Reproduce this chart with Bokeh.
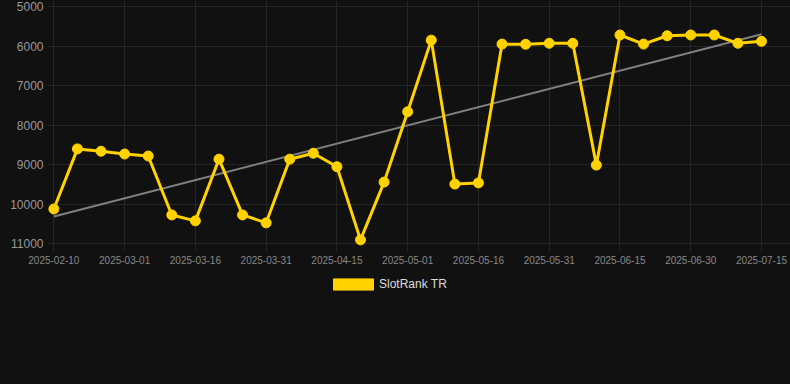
from bokeh.plotting import figure
from bokeh.models import Range1d, FixedTicker, Legend, LegendItem, ColumnDataSource
from bokeh.layouts import column
from bokeh.embed import file_html
from bokeh.resources import INLINE

# ---- data ----
dates = [
    "2025-02-10", "2025-02-16", "2025-02-22", "2025-03-01", "2025-03-06", "2025-03-11",
    "2025-03-16", "2025-03-21", "2025-03-26", "2025-03-31", "2025-04-05", "2025-04-10",
    "2025-04-15", "2025-04-20", "2025-04-26", "2025-05-01", "2025-05-06", "2025-05-11",
    "2025-05-16", "2025-05-21", "2025-05-26", "2025-05-31", "2025-06-05", "2025-06-10",
    "2025-06-15", "2025-06-20", "2025-06-25", "2025-06-30", "2025-07-05", "2025-07-10",
    "2025-07-15",
]
rank_values = [
    10120, 8600, 8660, 8730, 8780, 10270, 10420, 8860, 10270, 10470, 8860, 8710,
    9050, 10900, 9440, 7660, 5850, 9490, 9460, 5950, 5955, 5930, 5930, 9010,
    5720, 5950, 5740, 5720, 5720, 5930, 5880,
]
trend_values = [10310, 5700]          # trend line at first and last date
y_ticks = [5000, 6000, 7000, 8000, 9000, 10000, 11000]
series_name = "SlotRank TR"
label_every = 3

# ---- styling ----
BG = "#111111"
GRID = "#262626"
YELLOW = "#FFD200"
FONT = "Liberation Sans"

idx = list(range(len(dates)))
src = ColumnDataSource(dict(x=idx, y=rank_values, date=dates))
trend_src = ColumnDataSource(dict(x=[idx[0], idx[-1]], y=trend_values))

p = figure(
    width=790, height=268,
    output_backend="svg", toolbar_location=None,
    x_range=Range1d(-0.27, 31.23),
    y_range=Range1d(11068, 4848),
    min_border_left=47, min_border_right=0, min_border_top=0, min_border_bottom=22,
    background_fill_color=BG, border_fill_color=BG, outline_line_color=None,
)

tick_idx = idx[::label_every]

# axes
p.xaxis.ticker = FixedTicker(ticks=tick_idx)
p.xaxis.major_label_overrides = {i: dates[i] for i in tick_idx}
p.xaxis.axis_line_color = None
p.xaxis.major_tick_line_color = GRID
p.xaxis.major_tick_out = 5
p.xaxis.major_tick_in = 0
p.xaxis.minor_tick_line_color = None
p.xaxis.major_label_standoff = 4
p.xaxis.major_label_text_font = FONT
p.xaxis.major_label_text_font_size = "10px"
p.xaxis.major_label_text_color = "#888888"

p.yaxis.ticker = FixedTicker(ticks=y_ticks)
p.yaxis.axis_line_color = None
p.yaxis.major_tick_line_color = None
p.yaxis.major_tick_out = 0
p.yaxis.major_tick_in = 0
p.yaxis.minor_tick_line_color = None
p.yaxis.major_label_standoff = 4
p.yaxis.major_label_text_font = FONT
p.yaxis.major_label_text_font_size = "12px"
p.yaxis.major_label_text_color = "#999999"

p.xgrid.ticker = FixedTicker(ticks=tick_idx)
p.xgrid.grid_line_color = GRID
p.ygrid.grid_line_color = GRID

# trend line
p.line("x", "y", source=trend_src, line_color="#808080", line_width=2)

# main series
p.line("x", "y", source=src, line_color=YELLOW, line_width=3)
p.scatter("x", "y", source=src, size=10, fill_color=YELLOW, line_color=YELLOW)

# ---- legend strip below the chart ----
lg = figure(
    width=790, height=116,
    output_backend="svg", toolbar_location=None,
    x_range=Range1d(0, 1), y_range=Range1d(0, 1),
    x_axis_type=None, y_axis_type=None,
    min_border_left=47, min_border_right=0, min_border_top=0, min_border_bottom=0,
    background_fill_color=BG, border_fill_color=BG, outline_line_color=None,
)
lg.xgrid.visible = False
lg.ygrid.visible = False
# legend proxy: one box kept outside the visible range, only its swatch is shown
proxy_src = ColumnDataSource(dict(left=[5], right=[6], top=[6], bottom=[5]))
swatch = lg.quad(left="left", right="right", top="top", bottom="bottom", source=proxy_src,
                 fill_color=YELLOW, line_color=YELLOW)
legend = Legend(
    items=[LegendItem(label=series_name, renderers=[swatch])],
    orientation="horizontal", location=(275, 87),
    glyph_width=50, glyph_height=14, label_standoff=1, label_height=14,
    label_text_font=FONT, label_text_font_size="12px", label_text_color="#dddddd",
    background_fill_alpha=0, border_line_alpha=0, padding=6, margin=0,
)
lg.add_layout(legend, "center")

layout = column(p, lg, spacing=0, styles={"background-color": BG})

open("out.html", "w").write(file_html(layout, INLINE))
